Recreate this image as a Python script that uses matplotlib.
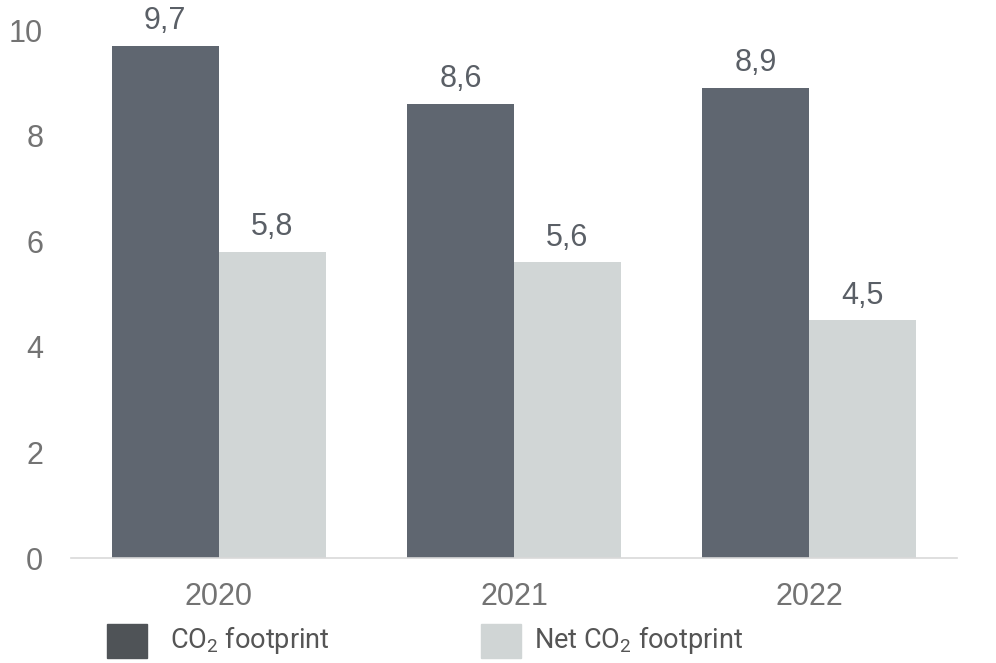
import matplotlib
matplotlib.use('Agg')
import matplotlib.pyplot as plt
import numpy as np
from matplotlib.patches import Rectangle

years = ['2020', '2021', '2022']
co2_footprint = [9.7, 8.6, 8.9]
net_co2_footprint = [5.8, 5.6, 4.5]
legend_labels = ['CO$_2$ footprint', 'Net CO$_2$ footprint']

dark = '#5f6670'
light = '#d1d6d6'
text_gray = '#737373'

plt.rcParams['font.family'] = ['Liberation Sans', 'DejaVu Sans']
plt.rcParams['mathtext.fontset'] = 'custom'
plt.rcParams['mathtext.rm'] = 'Roboto'

fig = plt.figure(figsize=(9.96, 6.63), dpi=100)
ax = fig.add_axes([71 / 996, 1 - 558 / 663, (957 - 71) / 996, (558 - 30) / 663])

x = np.arange(len(years))
w = 0.362
b1 = ax.bar(x - w / 2, co2_footprint, w, color=dark)
b2 = ax.bar(x + w / 2, net_co2_footprint, w, color=light)

for bars, vals in ((b1, co2_footprint), (b2, net_co2_footprint)):
    for rect, v in zip(bars, vals):
        ax.annotate(f'{v:.1f}'.replace('.', ','),
                    (rect.get_x() + rect.get_width() / 2, rect.get_height()),
                    xytext=(0, 7), textcoords='offset points',
                    ha='center', va='bottom', fontsize=22, color='#5a5f66')

ax.set_xlim(-0.5, 2.5)
ax.set_ylim(0, 10)
ax.set_yticks([0, 2, 4, 6, 8, 10])
ax.set_xticks(x)
ax.set_xticklabels(years)
ax.tick_params(axis='both', length=0, labelsize=22, colors=text_gray)
ax.tick_params(axis='y', pad=20)
ax.tick_params(axis='x', pad=17)
for s in ['top', 'right', 'left']:
    ax.spines[s].set_visible(False)
ax.spines['bottom'].set_color('#d9d9d9')
ax.spines['bottom'].set_linewidth(1.2)

# legend below the chart
leg_colors = ['#4f5357', '#d0d5d5']
leg_box_x = [107, 481]
leg_text_x = [170, 534]
for bx, tx, c, lab in zip(leg_box_x, leg_text_x, leg_colors, legend_labels):
    fig.patches.append(Rectangle((bx / 996, 1 - 658 / 663), 40 / 996, 34 / 663,
                                 transform=fig.transFigure, color=c))
    fig.text(tx / 996, 1 - 640 / 663, lab, fontsize=19.5, color='#555555',
             va='center', ha='left', family='Roboto')

fig.savefig('out.png', dpi=100)
